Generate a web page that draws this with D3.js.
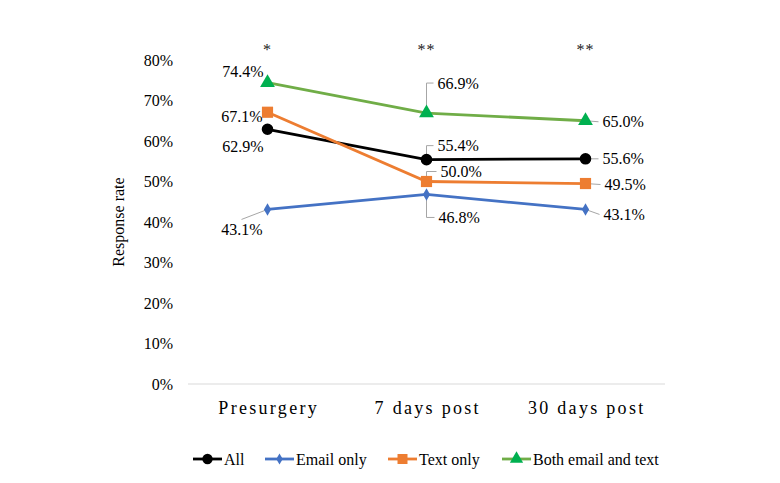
<!DOCTYPE html>
<html><head><meta charset="utf-8">
<script src="https://cdn.jsdelivr.net/npm/d3@7"></script>
<style>body{margin:0;background:#fff}svg{display:block;font-family:"Liberation Serif","Times New Roman",serif}</style>
</head><body><svg id="c" width="780" height="483"></svg>
<script>
const categories = ["Presurgery", "7 days post", "30 days post"];
const significance = ["*", "**", "**"];
const seriesNames = ["All", "Email only", "Text only", "Both email and text"];
const allValues = [62.9, 55.4, 55.6];
const emailValues = [43.1, 46.8, 43.1];
const textValues = [67.1, 50.0, 49.5];
const bothValues = [74.4, 66.9, 65.0];
const yTicks = [0, 10, 20, 30, 40, 50, 60, 70, 80];

// styling / label placement (not data)
const styles = [
  {line: "#000000", fill: "#000000", shape: d3.symbolCircle, size: 105},
  {line: "#4472C4", fill: "#4472C4", shape: d3.symbolDiamond, size: 45},
  {line: "#ED7D31", fill: "#ED7D31", shape: d3.symbolSquare, size: 125},
  {line: "#70AD47", fill: "#00B050", shape: d3.symbolTriangle, size: 95}
];
const labelPos = [
  [{x:-4, y:17, a:"end"}, {x:11, y:-14, a:"start", lead:"up"}, {x:17, y:0, a:"start", lead:"h"}],
  [{x:-5, y:20, a:"end", lead:"diag"}, {x:12, y:23, a:"start", lead:"down"}, {x:18, y:5, a:"start", lead:"h"}],
  [{x:-5, y:4, a:"end"}, {x:14, y:-10, a:"start", lead:"up"}, {x:19, y:1, a:"start", lead:"h"}],
  [{x:-4, y:-11, a:"end"}, {x:11, y:-30, a:"start", lead:"up"}, {x:17, y:1, a:"start", lead:"h"}]
];

const series = [allValues, emailValues, textValues, bothValues];
const svg = d3.select("#c");
const m = {l:188, r:665, t:60, b:384};
const x = d3.scaleBand().domain(categories).range([m.l, m.r]);
const y = d3.scaleLinear().domain([0, 80]).range([m.b, m.t]);
const cx = c => x(c) + x.bandwidth()/2;

svg.append("line").attr("x1", m.l).attr("x2", m.r).attr("y1", m.b).attr("y2", m.b)
  .attr("stroke", "#d9d9d9").attr("stroke-width", 1);

svg.append("g").selectAll("text").data(yTicks).join("text")
  .attr("x", 173).attr("y", d => y(d)).attr("dy", "0.35em")
  .attr("text-anchor", "end").attr("font-size", 16).attr("fill", "#000")
  .text(d => d + "%");

svg.append("text").attr("transform", `translate(124,${(m.t+m.b)/2}) rotate(-90)`)
  .attr("text-anchor", "middle").attr("font-size", 16).text("Response rate");

svg.append("g").selectAll("text").data(categories).join("text")
  .attr("x", d => cx(d) + 1.2).attr("y", 414)
  .attr("text-anchor", "middle").attr("font-size", 18).attr("letter-spacing", "2.3px")
  .text(d => d);

svg.append("g").selectAll("text").data(categories).join("text")
  .attr("x", d => cx(d)).attr("y", 55)
  .attr("text-anchor", "middle").attr("font-size", 16).attr("letter-spacing", "1px")
  .attr("fill", "#222")
  .text((d,i) => significance[i]);

const line = d3.line().x((d,i) => cx(categories[i])).y(d => y(d));

series.forEach((vals, si) => {
  vals.forEach((v, i) => {
    const p = labelPos[si][i];
    if (!p.lead) return;
    const px = cx(categories[i]), py = y(v);
    const tx = px + p.x, ty = py + p.y;
    let path;
    if (p.lead === "up" || p.lead === "down") path = `M${px},${py}V${ty}H${tx-4}`;
    else if (p.lead === "h") path = `M${px},${py}L${tx-4},${ty}`;
    else path = `M${px},${py}L${px-26},${py+10}`;
    svg.append("path").attr("d", path).attr("fill", "none").attr("stroke", "#a6a6a6").attr("stroke-width", 1);
  });
});

series.forEach((vals, si) => {
  const s = styles[si];
  svg.append("path").datum(vals).attr("d", line).attr("fill", "none")
    .attr("stroke", s.line).attr("stroke-width", 2.8);
  svg.append("g").selectAll("path").data(vals).join("path")
    .attr("transform", (d,i) => `translate(${cx(categories[i])},${y(d)})`)
    .attr("d", d3.symbol().type(s.shape).size(s.size)).attr("fill", s.fill);
});

series.forEach((vals, si) => {
  svg.append("g").selectAll("text").data(vals).join("text")
    .attr("x", (d,i) => cx(categories[i]) + labelPos[si][i].x)
    .attr("y", (d,i) => y(d) + labelPos[si][i].y).attr("dy", "0.35em")
    .attr("text-anchor", (d,i) => labelPos[si][i].a).attr("font-size", 16)
    .text(d => d.toFixed(1) + "%");
});

const legX = [193, 265, 388, 502];
const lg = svg.append("g").selectAll("g").data(seriesNames).join("g")
  .attr("transform", (d,i) => `translate(${legX[i]},459)`);
lg.append("line").attr("x1", 0).attr("x2", 29).attr("stroke", (d,i) => styles[i].line).attr("stroke-width", 2.8);
lg.append("path").attr("transform", "translate(14.5,0)")
  .attr("d", (d,i) => d3.symbol().type(styles[i].shape).size(styles[i].size*0.8)())
  .attr("fill", (d,i) => styles[i].fill);
lg.append("text").attr("x", 31).attr("dy", "0.35em").attr("font-size", 16).text(d => d);
</script></body></html>
